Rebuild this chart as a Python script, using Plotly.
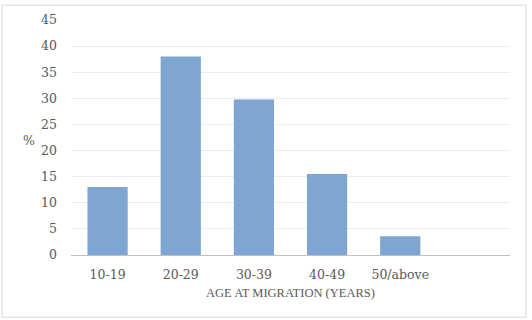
import plotly.graph_objects as go

categories = ["10-19", "20-29", "30-39", "40-49", "50/above"]
values = [13.0, 38.0, 29.8, 15.5, 3.6]
y_ticks = [0, 5, 10, 15, 20, 25, 30, 35, 40, 45]

L, R, T, B = 71, 22, 17, 65
W, H = 532, 320
pw, ph = W - L - R, H - T - B

font = "Liberation Serif, DejaVu Serif, serif"
tfont = "DejaVu Serif, serif"
grey = "#595959"

fig = go.Figure(go.Bar(x=categories, y=values, marker=dict(color="#7fa6d2", line=dict(width=0))))

fig.update_layout(
    width=W, height=H,
    margin=dict(l=L, r=R, t=T, b=B),
    paper_bgcolor="white", plot_bgcolor="white",
    bargap=0.45,
    showlegend=False,
    font=dict(family=font, size=12, color=grey),
    xaxis=dict(type="category", range=[-0.5, 5.5], showgrid=False, showline=True,
               linecolor="#c0c0c0", linewidth=1, ticks="",
               tickfont=dict(family=tfont, size=12.5, color=grey),
               ticklabelstandoff=8, zeroline=False),
    yaxis=dict(range=[0, 45], tickvals=y_ticks, showgrid=True, gridcolor="#ececec",
               zeroline=False, showline=False, ticks="",
               tickfont=dict(family=tfont, size=12.5, color=grey),
               ticklabelstandoff=13),
)

fig.add_annotation(text="AGE AT MIGRATION (YEARS)", xref="paper", yref="paper",
                   x=0.5, y=-(293 - 255) / ph, xanchor="center", yanchor="middle",
                   showarrow=False, font=dict(family=font, size=12.5, color=grey))
fig.add_annotation(text="%", xref="paper", yref="paper",
                   x=(29 - L) / pw, y=(255 - 139) / ph, xanchor="center", yanchor="middle",
                   showarrow=False, font=dict(family=tfont, size=12.5, color=grey))

fig.add_shape(type="rect", xref="paper", yref="paper",
              x0=(2 - L) / pw, x1=(526 - L) / pw,
              y0=(255 - 318) / ph, y1=(255 - 2) / ph,
              line=dict(color="#d9d9d9", width=1), fillcolor="rgba(0,0,0,0)", layer="below")

fig.write_html("out.html")
